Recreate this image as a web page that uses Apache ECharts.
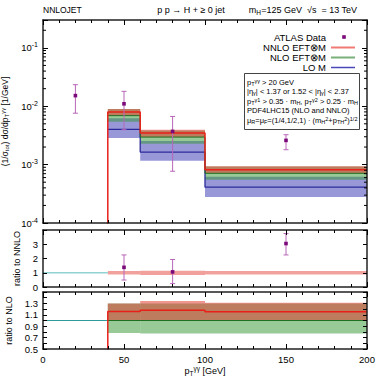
<!DOCTYPE html>
<html><head><meta charset="utf-8">
<script src="https://cdn.jsdelivr.net/npm/echarts@6/dist/echarts.min.js"></script>
<style>html,body{margin:0;padding:0;background:#fff}#c{width:382px;height:382px}</style>
</head><body><div id="c"></div>
<script>
// ---------------- data ----------------
const binEdges = [40, 60, 100, 200];
const nnlo   = [0.0080, 0.00349, 0.00082];
const nnloLo = [0.0069, 0.00296, 0.00071];
const nnloHi = [0.0090, 0.00396, 0.00094];
const nlo    = [0.0069, 0.00296, 0.00071];
const nloLo  = [0.0054, 0.00228, 0.00055];
const nloHi  = [0.0090, 0.00385, 0.00093];
const lo     = [0.0040, 0.00164, 0.00041];
const loLo   = [0.00285, 0.00116, 0.00028];
const loHi   = [0.0062, 0.00255, 0.00062];
const dataX     = [20, 50, 80, 150];
const dataY     = [0.0152, 0.0110, 0.0037, 0.0026];
const dataErrLo = [0.0076, 0.00396, 0.00077, 0.0018];
const dataErrHi = [0.0234, 0.0180, 0.00668, 0.00325];
// ratio to NNLO
const r1X      = [50, 80, 150];
const r1Y      = [1.38, 1.06, 3.05];
const r1ErrLo  = [0.49, 0.24, 2.25];
const r1ErrHi  = [2.25, 1.93, 3.75];
const r1BandLo = [0.87, 0.85, 0.87];
const r1BandHi = [1.13, 1.14, 1.13];
// ratio to NLO
const r2Nnlo   = [1.16, 1.18, 1.155];
const r2NnloLo = [0.99, 0.99, 0.99];
const r2NnloHi = [1.30, 1.34, 1.31];
const r2NloLo  = [0.78, 0.77, 0.77];
const r2NloHi  = [1.30, 1.30, 1.30];
const lowRange = [0, 40];
const xTickValues = [0, 50, 100, 150, 200];
const yMainRange = [1e-4, 0.3];

// ---------------- helpers ----------------
const FONT = '"Liberation Sans", Arial, Helvetica, sans-serif';
function steps(vals, start) {
  const pts = [];
  if (start !== undefined) pts.push([binEdges[0], start]);
  vals.forEach((v, i) => { pts.push([binEdges[i], v]); pts.push([binEdges[i + 1], v]); });
  return pts;
}
function band(xi, yi, los, his, color, z) {
  return {
    type: 'custom', xAxisIndex: xi, yAxisIndex: yi, z: z, clip: true, silent: true,
    data: los.map((l, i) => [binEdges[i], binEdges[i + 1], l, his[i]]),
    encode: { x: [0, 1], y: [2, 3] },
    renderItem: function (params, api) {
      const a = api.coord([api.value(0), api.value(3)]);
      const b = api.coord([api.value(1), api.value(2)]);
      return { type: 'rect', shape: { x: a[0], y: a[1], width: b[0] - a[0], height: b[1] - a[1] },
               style: { fill: color } };
    }
  };
}
function stepLine(xi, yi, pts, color, width, z) {
  return { type: 'line', xAxisIndex: xi, yAxisIndex: yi, data: pts, symbol: 'none', z: z,
           clip: true, silent: true, lineStyle: { color: color, width: width }, animation: false };
}
function errBars(xi, yi, xs, ys, los, his, z) {
  return {
    type: 'custom', xAxisIndex: xi, yAxisIndex: yi, z: z, clip: true, silent: true,
    data: xs.map((x, i) => [x, ys[i], los[i], his[i]]),
    encode: { x: 0, y: [1, 2, 3] },
    renderItem: function (params, api) {
      const x = api.value(0);
      const c = api.coord([x, api.value(1)]);
      const l = api.coord([x, api.value(2)]);
      const h = api.coord([x, api.value(3)]);
      const st = { stroke: '#b866b8', lineWidth: 1 };
      return { type: 'group', children: [
        { type: 'line', shape: { x1: c[0], y1: l[1], x2: c[0], y2: h[1] }, style: st },
        { type: 'line', shape: { x1: c[0] - 2.5, y1: l[1], x2: c[0] + 2.5, y2: l[1] }, style: st },
        { type: 'line', shape: { x1: c[0] - 2.5, y1: h[1], x2: c[0] + 2.5, y2: h[1] }, style: st },
        { type: 'rect', shape: { x: c[0] - 1.8, y: c[1] - 1.8, width: 3.6, height: 3.6 }, style: { fill: '#7a0a7a' } }
      ]};
    }
  };
}
// log minor tick values
const minorVals = [];
for (let e = -4; e <= -1; e++) for (let m = 2; m <= 9; m++) {
  const v = m * Math.pow(10, e);
  if (v < yMainRange[1]) minorVals.push(v);
}
const logMinor = {
  type: 'custom', xAxisIndex: 0, yAxisIndex: 0, z: 12, silent: true, clip: false,
  data: minorVals.map(v => [0, v]), encode: { x: 0, y: 1 },
  renderItem: function (params, api) {
    const cs = params.coordSys;
    const p = api.coord([0, api.value(1)]);
    const st = { stroke: '#000', lineWidth: 1 };
    return { type: 'group', children: [
      { type: 'line', shape: { x1: cs.x, y1: p[1], x2: cs.x + 3, y2: p[1] }, style: st },
      { type: 'line', shape: { x1: cs.x + cs.width - 3, y1: p[1], x2: cs.x + cs.width, y2: p[1] }, style: st }
    ]};
  }
};

const frame = { show: true, onZero: false, lineStyle: { color: '#222', width: 1.5 } };
const tickLbl = { fontSize: 9.5, color: '#000', fontFamily: FONT };
const nameStyle = { fontSize: 9, color: '#000', fontFamily: FONT,
  rich: { sub: { fontSize: 6.5, padding: [5, 0, 0, 0], fontFamily: FONT },
          sup: { fontSize: 6.5, padding: [0, 0, 5, 0], fontFamily: FONT } } };

function xAx(gi, pos, labels) {
  const a = { type: 'value', gridIndex: gi, position: pos, min: xTickValues[0], max: xTickValues[xTickValues.length - 1],
    interval: xTickValues[1] - xTickValues[0], z: 10, axisLine: frame,
    axisTick: { show: true, inside: true, length: 5, lineStyle: { color: '#000' } },
    minorTick: { show: true, splitNumber: 5, length: 3, lineStyle: { color: '#000' } },
    splitLine: { show: false },
    axisLabel: Object.assign({ show: labels, margin: 5 }, tickLbl) };
  return a;
}
function yLin(gi, pos, labels, min, max, interval, fmt, name, gap) {
  return { type: 'value', gridIndex: gi, position: pos, min: min, max: max, interval: interval, z: 10,
    axisLine: frame,
    axisTick: { show: true, inside: true, length: 4, lineStyle: { color: '#000' } },
    splitLine: { show: false },
    axisLabel: Object.assign({ show: labels, margin: 5, formatter: fmt }, tickLbl),
    name: name, nameLocation: 'middle', nameGap: gap, nameTextStyle: nameStyle };
}
function yLog(pos, labels) {
  return { type: 'log', logBase: 10, gridIndex: 0, position: pos, min: yMainRange[0], max: yMainRange[1], z: 10,
    axisLine: frame,
    axisTick: { show: true, inside: true, length: 5, lineStyle: { color: '#000' } },
    splitLine: { show: false },
    axisLabel: Object.assign({ show: labels, margin: 5,
      formatter: function (v) {
        const l = Math.log10(v), e = Math.round(l);
        if (Math.abs(l - e) > 1e-6) return '';
        return '{b|10}{e|' + e + '}';
      },
      rich: { b: { fontSize: 9.5, fontFamily: FONT, color: '#000' },
              e: { fontSize: 7, fontFamily: FONT, color: '#000', padding: [0, 0, 6, 0] } } }, tickLbl),
    name: labels ? '(1/σ{sub|tot}) dσ/dp{sub|T}{sup|γγ} [1/GeV]' : '', nameLocation: 'middle', nameGap: 21,
    nameTextStyle: { fontSize: 8.5, color: '#000', fontFamily: FONT,
      rich: { sub: { fontSize: 6, padding: [4, 0, 0, 0], fontFamily: FONT },
              sup: { fontSize: 6, padding: [0, 0, 4, 0], fontFamily: FONT } } } };
}

const option = {
  animation: false,
  backgroundColor: '#fff',
  grid: [
    { left: 43, top: 20, width: 324, height: 203, outerBoundsMode: 'none' },
    { left: 43, top: 230, width: 324, height: 57, outerBoundsMode: 'none' },
    { left: 43, top: 292, width: 324, height: 57, outerBoundsMode: 'none' }
  ],
  xAxis: [
    xAx(0, 'bottom', false), xAx(0, 'top', false),
    xAx(1, 'bottom', false), xAx(1, 'top', false),
    Object.assign(xAx(2, 'bottom', true), { name: 'p{sub|T}{sup|γγ} [GeV]', nameLocation: 'middle', nameGap: 16, nameTextStyle: nameStyle }),
    xAx(2, 'top', false)
  ],
  yAxis: [
    yLog('left', true), yLog('right', false),
    yLin(1, 'left', true, 0, 4, 1, v => (v >= 4 ? '' : String(v)), 'ratio to NNLO', 22),
    yLin(1, 'right', false, 0, 4, 1, null, '', 0),
    yLin(2, 'left', true, 0.5, 1.5, 0.1, v => { const k = Math.round(v * 10); return (k % 2 === 1 && k < 15) ? (k / 10).toFixed(1) : ''; }, 'ratio to NLO', 22),
    yLin(2, 'right', false, 0.5, 1.5, 0.1, null, '', 0)
  ],
  series: [
    // main panel
    band(0, 0, loLo, loHi, 'rgba(50,50,180,0.5)', 2),
    band(0, 0, nloLo, nloHi, 'rgba(50,150,50,0.5)', 3),
    band(0, 0, nnloLo, nnloHi, 'rgba(225,45,35,0.5)', 4),
    stepLine(0, 0, steps(lo), '#2a2a9a', 1.3, 5),
    stepLine(0, 0, steps(nlo), '#1f6e1f', 1, 5),
    stepLine(0, 0, steps(nnlo, 1e-6), '#e8201a', 1.5, 6),
    errBars(0, 0, dataX, dataY, dataErrLo, dataErrHi, 7),
    logMinor,
    // ratio to NNLO
    band(2, 2, r1BandLo, r1BandHi, 'rgba(225,45,35,0.45)', 3),
    stepLine(2, 2, [[lowRange[0], 1], [lowRange[1], 1]], '#8fd3d3', 1.5, 5),
    errBars(2, 2, r1X, r1Y, r1ErrLo, r1ErrHi, 7),
    // ratio to NLO
    band(4, 4, r2NloLo, r2NloHi, 'rgba(50,150,50,0.5)', 3),
    band(4, 4, r2NnloLo, r2NnloHi, 'rgba(225,45,35,0.5)', 4),
    stepLine(4, 4, [[binEdges[0], 1], [binEdges[binEdges.length - 1], 1]], '#1f6e1f', 1, 5),
    stepLine(4, 4, [[lowRange[0], 1], [lowRange[1], 1]], '#2f9a9a', 1, 5),
    stepLine(4, 4, steps(r2Nnlo, 0), '#e8201a', 1.5, 6)
  ],
  graphic: [
    { type: 'text', x: 43, y: 10, z: 100, style: { text: 'NNLOJET', fontSize: 8.5, fontFamily: FONT, fill: '#000', align: 'left', verticalAlign: 'middle' } },
    { type: 'text', x: 191, y: 10, z: 100, style: { text: 'p p → H + ≥ 0 jet', fontSize: 9, fontFamily: FONT, fill: '#000', align: 'center', verticalAlign: 'middle' } },
    { type: 'text', x: 357, y: 10, z: 100, style: { text: 'm{s|H}=125 GeV  √s  = 13 TeV', fontSize: 9, fontFamily: FONT, fill: '#000', align: 'right', verticalAlign: 'middle',
        rich: { s: { fontSize: 6.5, padding: [4, 0, 0, 0], fontFamily: FONT } } } },
    // legend
    { type: 'text', x: 326, y: 37, z: 100, style: { text: 'ATLAS Data', fontSize: 9.5, fontFamily: FONT, fill: '#000', align: 'right', verticalAlign: 'middle' } },
    { type: 'text', x: 326, y: 47.5, z: 100, style: { text: 'NNLO EFT⊗M', fontSize: 9.5, fontFamily: FONT, fill: '#000', align: 'right', verticalAlign: 'middle' } },
    { type: 'text', x: 326, y: 57.5, z: 100, style: { text: 'NLO EFT⊗M', fontSize: 9.5, fontFamily: FONT, fill: '#000', align: 'right', verticalAlign: 'middle' } },
    { type: 'text', x: 326, y: 67.5, z: 100, style: { text: 'LO M', fontSize: 9.5, fontFamily: FONT, fill: '#000', align: 'right', verticalAlign: 'middle' } },
    { type: 'rect', z: 100, shape: { x: 342.2, y: 35.2, width: 3.6, height: 3.6 }, style: { fill: '#7a0a7a' } },
    { type: 'line', z: 100, shape: { x1: 331, y1: 47.5, x2: 355, y2: 47.5 }, style: { stroke: '#f07a74', lineWidth: 2 } },
    { type: 'line', z: 100, shape: { x1: 331, y1: 57.5, x2: 355, y2: 57.5 }, style: { stroke: '#78b078', lineWidth: 2 } },
    { type: 'line', z: 100, shape: { x1: 331, y1: 67.5, x2: 355, y2: 67.5 }, style: { stroke: '#4848b8', lineWidth: 1.5 } },
    // info box
    { type: 'rect', z: 100, shape: { x: 244.5, y: 73.5, width: 115, height: 56 }, style: { fill: '#fff', stroke: '#444', lineWidth: 1 } },
    { type: 'text', x: 247, y: 82, z: 101, style: { text: 'p{b|T}{p|γγ} > 20 GeV', fontSize: 7.5, fontFamily: FONT, fill: '#000', verticalAlign: 'middle',
        rich: { b: { fontSize: 5.5, padding: [3, 0, 0, 0] }, p: { fontSize: 5.5, padding: [0, 0, 3, 0] } } } },
    { type: 'text', x: 247, y: 91.5, z: 101, style: { text: '|η{b|γ}| < 1.37 or 1.52 < |η{b|γ}| < 2.37', fontSize: 7.5, fontFamily: FONT, fill: '#000', verticalAlign: 'middle',
        rich: { b: { fontSize: 5.5, padding: [3, 0, 0, 0] }, p: { fontSize: 5.5, padding: [0, 0, 3, 0] } } } },
    { type: 'text', x: 247, y: 101, z: 101, style: { text: 'p{b|T}{p|γ1} > 0.35 · m{b|H}, p{b|T}{p|γ2} > 0.25 · m{b|H}', fontSize: 7.5, fontFamily: FONT, fill: '#000', verticalAlign: 'middle',
        rich: { b: { fontSize: 5.5, padding: [3, 0, 0, 0] }, p: { fontSize: 5.5, padding: [0, 0, 3, 0] } } } },
    { type: 'text', x: 247, y: 110.5, z: 101, style: { text: 'PDF4LHC15 (NLO and NNLO)', fontSize: 7.5, fontFamily: FONT, fill: '#000', verticalAlign: 'middle' } },
    { type: 'text', x: 247, y: 120, z: 101, style: { text: 'μ{b|R}=μ{b|F}=(1/4,1/2,1) · (m{b|H}{p|2}+p{b|TH}{p|2}){p|1/2}', fontSize: 7.5, fontFamily: FONT, fill: '#000', verticalAlign: 'middle',
        rich: { b: { fontSize: 5.5, padding: [3, 0, 0, 0] }, p: { fontSize: 5.5, padding: [0, 0, 3, 0] } } } }
  ]
};
const chart = echarts.init(document.getElementById('c'), null, { renderer: 'svg', width: 382, height: 382 });
chart.setOption(option);
</script>
</body></html>
